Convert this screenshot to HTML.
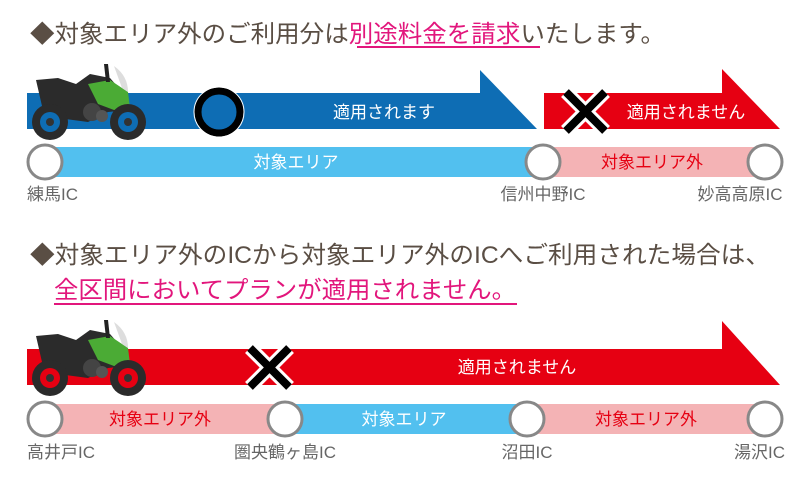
<!DOCTYPE html>
<html><head><meta charset="utf-8"><style>
html,body{margin:0;padding:0;background:#fff}
svg{display:block}
text{font-family:"Liberation Sans","Noto Sans CJK JP",sans-serif}
</style></head><body>
<svg width="808" height="480" viewBox="0 0 808 480" xmlns="http://www.w3.org/2000/svg">
<defs>
<g id="bike">
  <path d="M8 10 L30 8 L48 14 L62 4 L82 8 L96 24 L100 40 L80 42 L60 52 L30 48 L14 36 Z" fill="#2b2b2b"/>
  <path d="M60 14 L82 10 L100 22 L102 38 L86 40 L70 34 Z" fill="#4bab35"/>
  <path d="M76 -6 L80 -6 L82 12 L78 12 Z" fill="#222"/>
  <path d="M86 -4 Q100 6 100 22 L94 18 Z" fill="#ddd"/>
  <circle cx="22" cy="52" r="18" fill="#2b2b2b"/>
  <circle cx="22" cy="52" r="10" fill="var(--w)"/>
  <circle cx="22" cy="52" r="4" fill="#333"/>
  <circle cx="100" cy="52" r="18" fill="#2b2b2b"/>
  <circle cx="100" cy="52" r="10" fill="var(--w)"/>
  <circle cx="100" cy="52" r="4" fill="#333"/>
  <circle cx="64" cy="42" r="9" fill="#444"/>
  <circle cx="74" cy="46" r="6" fill="#555"/>
</g>
</defs>

<text x="30" y="42" font-size="24" fill="#5a4e44" textLength="635" lengthAdjust="spacingAndGlyphs">◆対象エリア外のご利用分は<tspan fill="#e2167c">別途料金を請求</tspan>いたします。</text>
<line x1="357" y1="47" x2="540" y2="47" stroke="#e2167c" stroke-width="2"/>

<polygon points="27,93 480,93 480,70 537,129 27,129" fill="#0e6db4"/>
<text x="384" y="118" font-size="17" fill="#fff" text-anchor="middle">適用されます</text>
<circle cx="219" cy="112" r="21" fill="#0e6db4" stroke="#000" stroke-width="7"/>
<circle cx="219" cy="112" r="25" fill="none" stroke="#fff" stroke-width="1"/>
<polygon points="544,93 722,93 722,69 780,129 544,129" fill="#e60012"/>
<text x="686" y="118" font-size="17" fill="#fff" text-anchor="middle">適用されません</text>
<g stroke="#fff" stroke-width="14"><line x1="566" y1="92" x2="605" y2="131"/><line x1="605" y1="92" x2="566" y2="131"/></g>
<g stroke="#000" stroke-width="8"><line x1="566" y1="92" x2="605" y2="131"/><line x1="605" y1="92" x2="566" y2="131"/></g>

<g transform="translate(28,70)" style="--w:#0e6db4"><use href="#bike"/></g>

<rect x="45" y="147" width="500" height="30" fill="#52c0ef"/>
<rect x="545" y="147" width="220" height="30" fill="#f4b3b5"/>
<text x="296" y="168" font-size="17" fill="#fff" text-anchor="middle">対象エリア</text>
<text x="652" y="168" font-size="17" fill="#e60012" text-anchor="middle">対象エリア外</text>
<g fill="#fff" stroke="#888" stroke-width="3">
<circle cx="45" cy="162" r="17"/><circle cx="543" cy="162" r="17"/><circle cx="765" cy="162" r="17"/>
</g>
<g font-size="17" fill="#666">
<text x="27" y="200">練馬IC</text>
<text x="543" y="200" text-anchor="middle">信州中野IC</text>
<text x="740" y="200" text-anchor="middle">妙高高原IC</text>
</g>

<text x="30" y="263" font-size="24" fill="#5a4e44" textLength="740" lengthAdjust="spacingAndGlyphs">◆対象エリア外のICから対象エリア外のICへご利用された場合は、</text>
<text x="54" y="298" font-size="24" fill="#e2167c" textLength="462" lengthAdjust="spacingAndGlyphs">全区間においてプランが適用されません。</text>
<line x1="54" y1="304" x2="517" y2="304" stroke="#e2167c" stroke-width="2"/>

<polygon points="27,349 722,349 722,321 780,385 27,385" fill="#e60012"/>
<text x="517" y="373" font-size="17" fill="#fff" text-anchor="middle">適用されません</text>
<g stroke="#fff" stroke-width="14"><line x1="250" y1="348" x2="289" y2="387"/><line x1="289" y1="348" x2="250" y2="387"/></g>
<g stroke="#000" stroke-width="8"><line x1="250" y1="348" x2="289" y2="387"/><line x1="289" y1="348" x2="250" y2="387"/></g>
<g transform="translate(28,326)" style="--w:#e60012"><use href="#bike"/></g>

<rect x="45" y="404" width="240" height="30" fill="#f4b3b5"/>
<rect x="285" y="404" width="242" height="30" fill="#52c0ef"/>
<rect x="527" y="404" width="238" height="30" fill="#f4b3b5"/>
<text x="160" y="425" font-size="17" fill="#e60012" text-anchor="middle">対象エリア外</text>
<text x="404" y="425" font-size="17" fill="#fff" text-anchor="middle">対象エリア</text>
<text x="646" y="425" font-size="17" fill="#e60012" text-anchor="middle">対象エリア外</text>
<g fill="#fff" stroke="#888" stroke-width="3">
<circle cx="45" cy="419" r="17"/><circle cx="285" cy="419" r="17"/><circle cx="527" cy="419" r="17"/><circle cx="765" cy="419" r="17"/>
</g>
<g font-size="17" fill="#666">
<text x="27" y="458">高井戸IC</text>
<text x="285" y="458" text-anchor="middle">圏央鶴ヶ島IC</text>
<text x="527" y="458" text-anchor="middle">沼田IC</text>
<text x="785" y="458" text-anchor="end">湯沢IC</text>
</g>
</svg>
</body></html>
